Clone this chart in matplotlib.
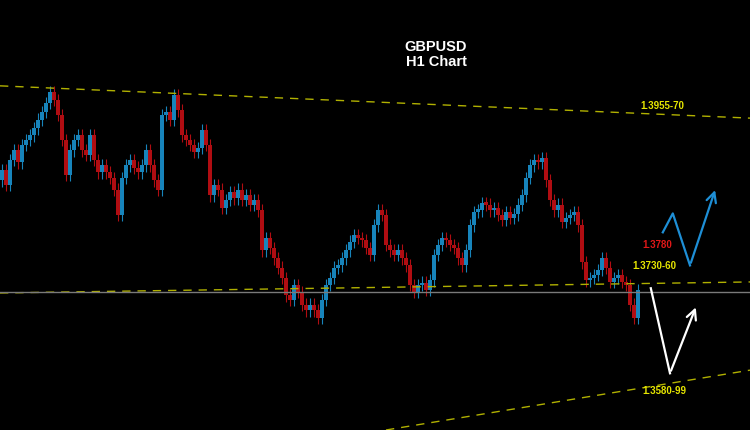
import matplotlib
matplotlib.use("Agg")
import matplotlib.pyplot as plt
import numpy as np

# GBPUSD H1 closes left to right
closes = [
    1.3875, 1.3856, 1.3888, 1.3900, 1.3885, 1.3907, 1.3913, 1.3919, 1.3928, 1.3939,
    1.3949, 1.3960, 1.3974, 1.3964, 1.3945, 1.3913, 1.3869, 1.3900, 1.3913, 1.3919,
    1.3900, 1.3894, 1.3919, 1.3888, 1.3872, 1.3881, 1.3872, 1.3865, 1.3850, 1.3818,
    1.3865, 1.3881, 1.3888, 1.3878, 1.3872, 1.3881, 1.3900, 1.3881, 1.3862, 1.3850,
    1.3945, 1.3949, 1.3939, 1.3970, 1.3951, 1.3919, 1.3913, 1.3907, 1.3898, 1.3903,
    1.3926, 1.3907, 1.3843, 1.3856, 1.3850, 1.3827, 1.3837, 1.3847, 1.3839, 1.3850,
    1.3837, 1.3843, 1.3831, 1.3837, 1.3824, 1.3773, 1.3789, 1.3776, 1.3763, 1.3751,
    1.3738, 1.3716, 1.3710, 1.3729, 1.3720, 1.3704, 1.3697, 1.3704, 1.3697, 1.3687,
    1.3710, 1.3729, 1.3738, 1.3751, 1.3754, 1.3763, 1.3773, 1.3784, 1.3792, 1.3789,
    1.3786, 1.3776, 1.3767, 1.3805, 1.3824, 1.3818, 1.3780, 1.3773, 1.3767, 1.3773,
    1.3763, 1.3754, 1.3729, 1.3720, 1.3729, 1.3732, 1.3723, 1.3735, 1.3767, 1.3780,
    1.3789, 1.3786, 1.3780, 1.3776, 1.3763, 1.3754, 1.3773, 1.3805, 1.3822, 1.3824,
    1.3833, 1.3831, 1.3824, 1.3827, 1.3818, 1.3812, 1.3822, 1.3814, 1.3819, 1.3831,
    1.3843, 1.3865, 1.3881, 1.3888, 1.3885, 1.3890, 1.3862, 1.3837, 1.3824, 1.3831,
    1.3809, 1.3814, 1.3818, 1.3822, 1.3805, 1.3758, 1.3735, 1.3738, 1.3742, 1.3748,
    1.3763, 1.3751, 1.3733, 1.3738, 1.3742, 1.3733, 1.3729, 1.3704, 1.3687, 1.3723,
]
first_open = 1.3862
wick = 0.0008  # how far the shadows stick out past the body

# channel / support lines as (price at left edge, price at right edge)
upper_line = (1.3982, 1.3941)
middle_line = (1.3719, 1.3733)
lower_line_x = (96, 187)
lower_line = (1.3545, 1.3621)
last_price = 1.3720

# labels: text, bar position, price, colour
labels = [
    ("1.3955-70", 165.2, 1.3956, "#e6e600"),
    ("1.3780", 163.7, 1.3780, "#e01818"),
    ("1.3730-60", 163.2, 1.3753, "#e6e600"),
    ("1.3580-99", 165.7, 1.3594, "#e6e600"),
]

# projected paths (bar position, price)
bull_x = [165.2, 167.7, 172.0, 178.5]
bull_y = [1.3796, 1.3820, 1.3754, 1.3853]
bear_x = [162.2, 167.0, 173.7]
bear_y = [1.3725, 1.3617, 1.3704]

blue = "#1784bb"
red = "#b00d12"

fig = plt.figure(figsize=(7.5, 4.3), dpi=100, facecolor="black")
ax = fig.add_axes([0, 0, 1, 1])
ax.set_facecolor("black")

opens = [first_open] + closes[:-1]
idx = np.arange(len(closes))
for i, o, c in zip(idx, opens, closes):
    col = blue if c >= o else red
    lo, hi = min(o, c), max(o, c)
    ax.vlines(i, lo - wick, hi + wick, color=col, lw=0.8)
    ax.bar(i, max(hi - lo, 0.0003), bottom=lo, width=0.85, color=col, linewidth=0)

# trend lines
ax.plot([-0.5, 187], upper_line, ls=(0, (6, 5)), color="#b0b000", lw=1)
ax.plot([-0.5, 187], middle_line, ls=(0, (6, 5)), color="#b0b000", lw=1)
ax.plot(lower_line_x, lower_line, ls=(0, (6, 5)), color="#b0b000", lw=1)
ax.axhline(last_price, color="#7a7a7a", lw=1)

for txt, x, y, col in labels:
    ax.text(x, y, txt, color=col, fontsize=7, fontweight="bold",
            family="Liberation Sans", ha="center", va="center")

ax.text(108.5, 1.4022, "GBPUSD\nH1 Chart", color="white", fontsize=10.5,
        fontweight="bold", family="Liberation Sans", ha="center", va="center",
        linespacing=1.15)

# projection arrows
ax.plot(bull_x[:-1], bull_y[:-1], color="#1e8fd6", lw=1.6)
ax.annotate("", xy=(bull_x[-1], bull_y[-1]), xytext=(bull_x[-2], bull_y[-2]),
            arrowprops=dict(arrowstyle="->,head_length=0.7,head_width=0.35",
                            color="#1e8fd6", lw=1.6))
ax.plot(bear_x[:-1], bear_y[:-1], color="white", lw=1.6)
ax.annotate("", xy=(bear_x[-1], bear_y[-1]), xytext=(bear_x[-2], bear_y[-2]),
            arrowprops=dict(arrowstyle="->,head_length=0.7,head_width=0.35",
                            color="white", lw=1.6))

ax.set_xlim(-0.5, 187)
ax.set_ylim(1.3545, 1.4091)
ax.axis("off")

fig.savefig("out.png", dpi=100, facecolor="black")
